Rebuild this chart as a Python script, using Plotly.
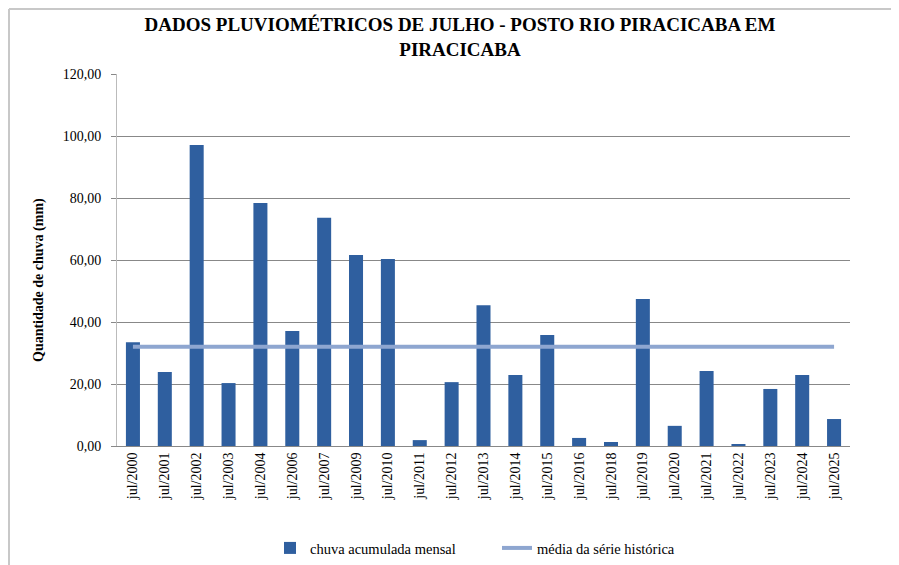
import plotly.graph_objects as go

categories = ["jul/2000", "jul/2001", "jul/2002", "jul/2003", "jul/2004", "jul/2006",
              "jul/2007", "jul/2009", "jul/2010", "jul/2011", "jul/2012", "jul/2013",
              "jul/2014", "jul/2015", "jul/2016", "jul/2018", "jul/2019", "jul/2020",
              "jul/2021", "jul/2022", "jul/2023", "jul/2024", "jul/2025"]
chuva = [33.5, 23.9, 97.1, 20.3, 78.4, 37.1, 73.6, 61.6, 60.3, 1.9, 20.6, 45.4,
         22.9, 35.8, 2.6, 1.3, 47.4, 6.5, 24.2, 0.6, 18.4, 22.9, 8.7]
media_serie = 32.0
y_ticks = [0, 20, 40, 60, 80, 100, 120]

W, H = 899, 565
OFF = 8  # page body margin offset
L, R, T, B = 117 - OFF, 850 - OFF, 74 - OFF, 446 - OFF

fig = go.Figure()
fig.add_trace(go.Bar(
    x=categories, y=chuva, name="chuva acumulada mensal",
    marker=dict(color="#2f5f9f", line=dict(width=0)),
    width=0.44,
))
fig.add_trace(go.Scatter(
    x=categories, y=[media_serie] * len(categories), name="média da série histórica",
    mode="lines", line=dict(color="#8ea6d0", width=4),
))

serif = "Liberation Serif"
fig.update_layout(
    width=W, height=H,
    margin=dict(l=L, r=W - R, t=T, b=H - B),
    paper_bgcolor="white", plot_bgcolor="white",
    separators=",.",
    font=dict(family=serif, size=14, color="#000000"),
    title=dict(
        text="DADOS PLUVIOMÉTRICOS DE JULHO - POSTO RIO PIRACICABA EM<br>PIRACICABA",
        x=(460 - OFF) / W, xanchor="center", xref="container",
        y=1 - (31 - OFF) / H, yanchor="middle", yref="container",
        font=dict(family=serif, size=19, color="#000000", weight="bold"),
    ),
    showlegend=True,
    legend=dict(
        orientation="h", x=(270 - OFF) / W, xanchor="left", xref="container",
        y=1 - (548 - OFF) / H, yanchor="middle", yref="container",
        font=dict(family=serif, size=14.5), itemwidth=30, tracegroupgap=0,
        entrywidth=182,
    ),
    bargap=0.56,
)
fig.update_xaxes(
    type="category", tickangle=-90, showgrid=False,
    showline=True, linecolor="#888888", linewidth=1,
    ticks="", tickfont=dict(family=serif, size=14),
    range=[-0.5, len(categories) - 0.5],
)
fig.update_yaxes(
    range=[0, 120], tickvals=y_ticks, tickformat=".2f",
    showgrid=True, gridcolor="#888888", gridwidth=1,
    showline=True, linecolor="#bbbbbb", linewidth=1,
    ticks="outside", ticklen=5, tickcolor="#888888",
    ticklabelstandoff=7,
    tickfont=dict(family=serif, size=14),
    zeroline=False,
)
fig.add_annotation(
    text="<b>Quantidade de chuva (mm)</b>", textangle=-90,
    xref="paper", yref="paper",
    x=(39 - OFF - L) / (R - L), y=(B - (280 - OFF)) / (B - T),
    xanchor="center", yanchor="middle", showarrow=False,
    font=dict(family=serif, size=14, color="#000000"),
)
# outer chart frame
fx = (9 - OFF - L) / (R - L)
fy = (B - 1) / (B - T)
fig.add_shape(type="line", xref="paper", yref="paper",
              x0=fx, x1=(W + 5 - L) / (R - L), y0=fy, y1=fy,
              line=dict(color="#c8c8c8", width=2))
fig.add_shape(type="line", xref="paper", yref="paper",
              x0=fx, x1=fx, y0=fy, y1=(B - H - 5) / (B - T),
              line=dict(color="#c8c8c8", width=2))

fig.write_html("out.html")
